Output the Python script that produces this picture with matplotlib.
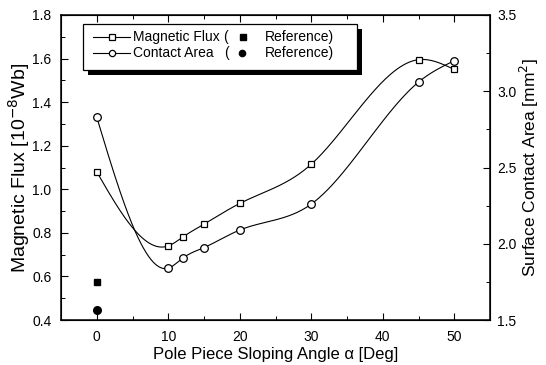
import matplotlib
matplotlib.use("Agg")
import matplotlib.pyplot as plt
import numpy as np
from matplotlib.patches import Rectangle
from matplotlib.lines import Line2D

plt.rcParams["font.family"] = ["Liberation Sans", "DejaVu Sans"]

# ---- data ----
angle = [0, 10, 12, 15, 20, 30, 45, 50]
flux = [1.08, 0.74, 0.78, 0.84, 0.935, 1.115, 1.595, 1.55]          # 10^-8 Wb
area = [2.83, 1.84, 1.905, 1.975, 2.09, 2.26, 3.06, 3.2]           # mm^2
ref_angle = [0]
ref_flux = [0.575]
ref_area = [1.565]


def spline(x, y, n=400):
    """natural cubic spline through the points (for the smooth line only)"""
    x = np.asarray(x, float); y = np.asarray(y, float)
    k = len(x); h = np.diff(x)
    A = np.zeros((k, k)); r = np.zeros(k)
    A[0, 0] = A[-1, -1] = 1
    for i in range(1, k - 1):
        A[i, i-1] = h[i-1]; A[i, i] = 2 * (h[i-1] + h[i]); A[i, i+1] = h[i]
        r[i] = 3 * ((y[i+1] - y[i]) / h[i] - (y[i] - y[i-1]) / h[i-1])
    c = np.linalg.solve(A, r)
    b = (y[1:] - y[:-1]) / h - h * (2 * c[:-1] + c[1:]) / 3
    d = (c[1:] - c[:-1]) / (3 * h)
    xs = np.linspace(x[0], x[-1], n)
    j = np.clip(np.searchsorted(x, xs) - 1, 0, k - 2)
    t = xs - x[j]
    return xs, y[j] + b[j] * t + c[j] * t**2 + d[j] * t**3


fig = plt.figure(figsize=(5.46, 3.65), dpi=100)
ax = fig.add_axes([61/546, 1 - 320/365, 429/546, 305/365])
ax2 = ax.twinx()

LW = 0.8
xs, ys = spline(angle, flux)
ax.plot(xs, ys, color="black", lw=LW)
ax.plot(angle, flux, ls="none", marker="s", ms=5, mfc="white", mec="black", mew=0.9)
ax.plot(ref_angle, ref_flux, ls="none", marker="s", ms=5, color="black")

xs, ys = spline(angle, area)
ax2.plot(xs, ys, color="black", lw=LW)
ax2.plot(angle, area, ls="none", marker="o", ms=5.5, mfc="white", mec="black", mew=0.9)
ax2.plot(ref_angle, ref_area, ls="none", marker="o", ms=5.5, color="black")

ax.set_xlim(-5, 55)
ax.set_ylim(0.4, 1.8)
ax2.set_ylim(1.5, 3.5)
ax.set_xticks([0, 10, 20, 30, 40, 50])
ax.set_xticks(np.arange(-5, 56, 5), minor=True)
ax.set_yticks(np.arange(0.4, 1.81, 0.2))
ax.set_yticks(np.arange(0.4, 1.81, 0.1), minor=True)
ax2.set_yticks([1.5, 2.0, 2.5, 3.0, 3.5])
ax2.set_yticks(np.arange(1.5, 3.51, 0.25), minor=True)
ax.set_yticklabels([f"{v:.1f}" for v in np.arange(0.4, 1.81, 0.2)])

ax.tick_params(which="both", direction="in", top=True, labelsize=10)
ax.tick_params(axis="y", pad=7)
ax.tick_params(axis="x", pad=7)
ax.tick_params(which="major", length=5, width=0.8)
ax.tick_params(which="minor", length=3, width=0.7)
ax2.tick_params(which="both", direction="in", labelsize=10, pad=5)
ax2.tick_params(which="major", length=5, width=0.8)
ax2.tick_params(which="minor", length=3, width=0.7)
for s in ax.spines.values():
    s.set_linewidth(1.1)

ax.set_xlabel("Pole Piece Sloping Angle \u03b1 [Deg]", fontsize=12, labelpad=2)
ax.set_ylabel("Magnetic Flux [10$^{-8}$Wb]", fontsize=14, labelpad=0)
ax2.set_ylabel("Surface Contact Area [mm$^{2}$]", fontsize=12.5, labelpad=1)

# ---- hand-drawn legend with drop shadow ----
bx, by, bw, bh = 22/429, 1 - 55/305, 274/429, 46/305
ax.add_patch(Rectangle((bx + 0.012, by - 0.016), bw, bh, transform=ax.transAxes,
                       facecolor="black", edgecolor="none", zorder=5))
ax.add_patch(Rectangle((bx, by), bw, bh, transform=ax.transAxes,
                       facecolor="white", edgecolor="black", lw=0.9, zorder=6))
rows = [(1 - 22/305, "s", "Magnetic Flux", 162/429, 182/429),
        (1 - 38/305, "o", "Contact Area", 163/429, 181/429)]
for yy, mk, lab, xp, xm in rows:
    ax.add_line(Line2D([32/429, 69/429], [yy, yy], transform=ax.transAxes,
                       color="black", lw=LW, zorder=7))
    ax.plot([51/429], [yy], transform=ax.transAxes, marker=mk, ms=4.5,
            mfc="white", mec="black", mew=0.9, zorder=8)
    ax.text(72/429, yy, lab, transform=ax.transAxes, fontsize=10,
            va="center", ha="left", zorder=8)
    ax.text(xp, yy, "(", transform=ax.transAxes, fontsize=10,
            va="center", ha="left", zorder=8)
    ax.plot([xm], [yy], transform=ax.transAxes, marker=mk, ms=4.5,
            color="black", zorder=8)
    ax.text(204/429, yy, "Reference)", transform=ax.transAxes, fontsize=10,
            va="center", ha="left", zorder=8)

fig.savefig("out.png", dpi=100)
